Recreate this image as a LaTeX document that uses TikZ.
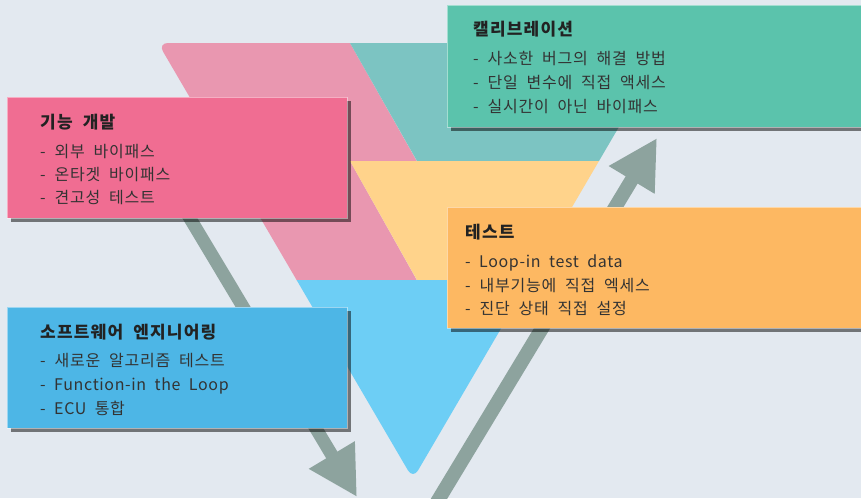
\documentclass[tikz,border=0pt]{standalone}
\usepackage{fontspec}
\newfontfamily\kr{Noto Sans CJK KR}[WordSpace=2]
\usetikzlibrary{arrows.meta,shadows}
\definecolor{bgc}{HTML}{E3E9F0}
\definecolor{pinkband}{HTML}{E997B0}
\definecolor{tealband}{HTML}{7CC4C2}
\definecolor{yellowband}{HTML}{FFD38B}
\definecolor{blueband}{HTML}{6DCEF5}
\definecolor{arrowc}{HTML}{8DA39E}
\definecolor{pinkbox}{HTML}{F06D92}
\definecolor{tealbox}{HTML}{5BC3AC}
\definecolor{orangebox}{HTML}{FDB862}
\definecolor{bluebox}{HTML}{4DB6E6}
\definecolor{titlec}{HTML}{222222}
\definecolor{itemc}{HTML}{333333}
\begin{document}
\begin{tikzpicture}[x=1pt,y=-1pt,
  box/.style={draw=white, draw opacity=0.45, line width=0.8pt, anchor=north west, inner sep=0pt,
    drop shadow={shadow xshift=4pt, shadow yshift=-4pt, opacity=0.5, fill=black}},
  arr/.style={draw=arrowc, line width=#1, -{Triangle[width=50pt,length=49pt]}},
  ttl/.style={anchor=base west, inner sep=0pt, text=titlec, font=\kr\bfseries\fontsize{17}{21}\selectfont\addfontfeature{LetterSpace=7}},
  itm/.style={anchor=base west, inner sep=0pt, text=itemc, font=\kr\fontsize{16}{19}\selectfont\addfontfeature{LetterSpace=5}},
  latin/.style={font=\kr\fontsize{16}{19}\selectfont\addfontfeature{LetterSpace=4}}]
\useasboundingbox (0,0) rectangle (861,498);
\fill[bgc] (0,0) rectangle (861,498);
\clip (0,0) rectangle (861,498);
% V shape
\begin{scope}
\clip[rounded corners=10pt] (158,43) -- (668,43) -- (413,479) -- cycle;
\fill[pinkband] (100,30) -- (342.6,30) -- (417,161.5) -- (100,161.5) -- cycle;
\fill[tealband] (342.6,30) -- (700,30) -- (700,161) -- (417,161) -- cycle;
\fill[pinkband] (100,161) -- (350,161) -- (417,280.5) -- (100,280.5) -- cycle;
\fill[yellowband] (350,161) -- (700,161) -- (700,280) -- (417,280) -- cycle;
\fill[blueband] (100,280) -- (700,280) -- (700,500) -- (100,500) -- cycle;
\end{scope}
% arrows
\coordinate (la0) at (149,150);
\coordinate (la1) at (357,497);
\coordinate (ra0) at (431,512);
\coordinate (ra1) at (657,138);
\draw[arr=13pt] (la0) -- (la1);
\draw[arr=14pt] (ra0) -- (ra1);
% boxes
\node[box, fill=pinkbox, minimum width=340pt, minimum height=121pt] (devbox) at (7,97) {};
\node[box, fill=bluebox, minimum width=340pt, minimum height=121pt] (swbox) at (7,307) {};
\node[box, fill=tealbox, minimum width=424pt, minimum height=122pt] (calbox) at (447,5) {};
\node[box, fill=orangebox, minimum width=424pt, minimum height=121pt] (testbox) at (447,207) {};
% texts
\node[ttl] (devt) at (40,128.5) {기능 개발};
\node[itm] (dev1) at (40,157) {- 외부 바이패스};
\node[itm] (dev2) at (40,180) {- 온타겟 바이패스};
\node[itm] (dev3) at (40,203) {- 견고성 테스트};
\node[ttl] (swt) at (40,338.5) {소프트웨어 엔지니어링};
\node[itm] (sw1) at (40,366) {- 새로운 알고리즘 테스트};
\node[itm, latin] (sw2) at (40,390) {- Function-in the Loop};
\node[itm, latin] (sw3) at (40,414) {- ECU 통합};
\node[ttl] (calt) at (473,35.5) {캘리브레이션};
\node[itm] (cal1) at (473,64) {- 사소한 버그의 해결 방법};
\node[itm] (cal2) at (473,88) {- 단일 변수에 직접 액세스};
\node[itm] (cal3) at (473,112) {- 실시간이 아닌 바이패스};
\node[ttl] (testt) at (465,238.5) {테스트};
\node[itm, latin] (test1) at (465,267) {- Loop-in test data};
\node[itm] (test2) at (465,291) {- 내부기능에 직접 엑세스};
\node[itm] (test3) at (465,314) {- 진단 상태 직접 설정};
\end{tikzpicture}
\end{document}
